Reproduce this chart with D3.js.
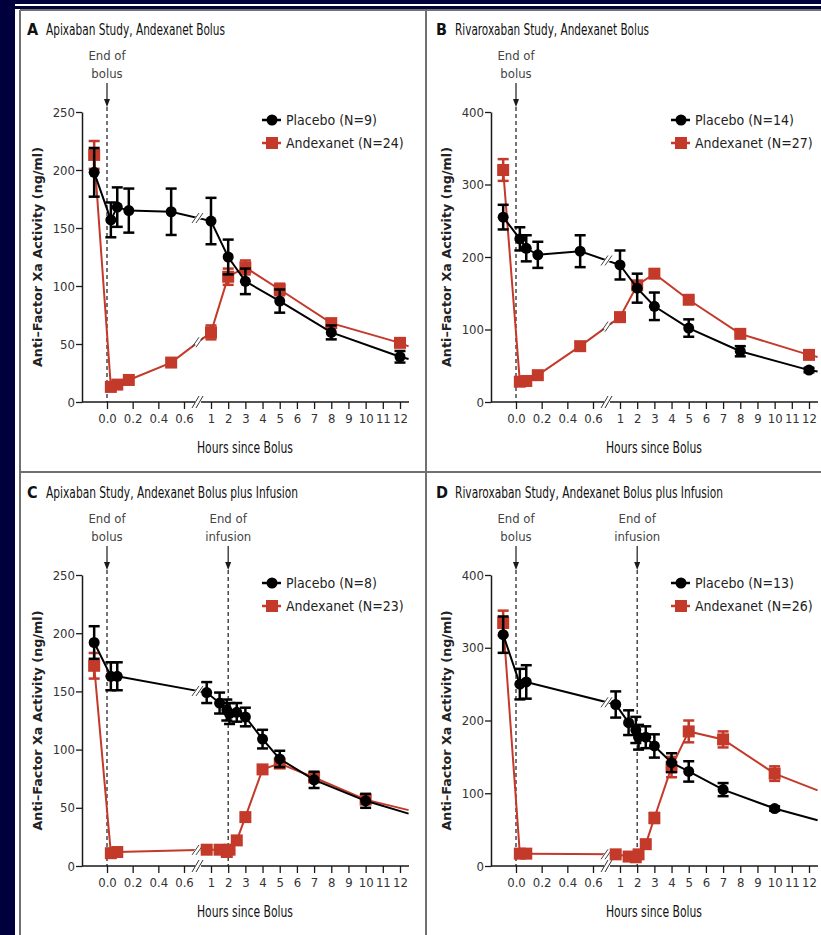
<!DOCTYPE html>
<html>
<head>
<meta charset="utf-8">
<script src="https://cdn.jsdelivr.net/npm/d3@7"></script>
<style>
  body { margin: 0; background: #00003c; }
  text { font-family: "Liberation Sans Narrow", "DejaVu Sans Condensed", "Arial Narrow", sans-serif; }
</style>
</head>
<body>
<script>
// anti-factor Xa activity, 4 panels (apixaban / rivaroxaban, bolus / bolus+infusion)

// ------- data -------
var hoursBolus = [-0.1, 0.03, 0.08, 0.17, 0.5, 1, 2, 3, 5, 8, 12];
var hoursInfusion = [-0.1, 0.03, 0.08, 0.75, 1.5, 1.92, 2.08, 2.5, 3, 4, 5, 7, 10];
var tailHour = 12.5;

// A  apixaban, bolus
var placeboA = [198, 157, 168, 165, 164, 156, 125, 104, 87, 60, 39];
var placeboA_err = [21, 15, 17, 19, 20, 20, 15, 11, 10, 6, 5];
var andexA = [213, 13, 15, 19, 34, 60, 108, 116, 97, 68, 51];
var andexA_err = [12, 2, 2, 2, 3, 6, 7, 6, 5, 3, 3];
var tailA = [37, 48];

// B  rivaroxaban, bolus
var placeboB = [255, 225, 212, 203, 208, 189, 157, 132, 102, 70, 44];
var placeboB_err = [17, 16, 18, 18, 22, 20, 20, 19, 12, 7, 3];
var andexB = [320, 28, 29, 37, 77, 117, 161, 177, 141, 94, 65];
var andexB_err = [15, 3, 3, 4, 5, 6, 5, 5, 3, 3, 2];
var tailB = [42, 62];

// C  apixaban, bolus + infusion
var placeboC = [192, 163, 163, 149, 140, 134, 131, 132, 128, 109, 92, 74, 56];
var placeboC_err = [14, 12, 12, 9, 9, 9, 9, 8, 8, 8, 7, 7, 6];
var andexC = [172, 11, 12, 14, 14, 12, 14, 22, 42, 83, 88, 76, 57];
var andexC_err = [11, 1, 1, 1, 1, 1, 1, 1, 2, 2, 3, 3, 3];
var tailC = [45, 48];

// D  rivaroxaban, bolus + infusion
var placeboD = [318, 250, 253, 222, 197, 187, 177, 177, 165, 142, 130, 105, 79];
var placeboD_err = [25, 21, 23, 18, 17, 18, 17, 15, 16, 13, 14, 9, 3];
var andexD = [334, 17, 17, 16, 13, 12, 16, 30, 66, 136, 185, 174, 127];
var andexD_err = [17, 2, 2, 2, 2, 2, 2, 2, 7, 14, 15, 11, 10];
var tailD = [63, 104];

var earlyTicks = [0, 0.2, 0.4, 0.6];
var lateTicks = [1, 2, 3, 4, 5, 6, 7, 8, 9, 10, 11, 12];
var yTicksApix = [0, 50, 100, 150, 200, 250];
var yTicksRiva = [0, 100, 200, 300, 400];

var RED = "#c43a2a";
var INK = "#1a1a1a";

// ------- page frame -------
var W = 821, H = 935;
var svg = d3.select("body").append("svg").attr("width", W).attr("height", H);

svg.append("rect").attr("width", W).attr("height", H).attr("fill", "#00003c");
svg.append("rect").attr("x", 15).attr("y", 4).attr("width", W - 15).attr("height", H - 4).attr("fill", "#fff");
svg.append("rect").attr("x", 15).attr("y", 6).attr("width", W - 15).attr("height", 3).attr("fill", "#00003c");
svg.append("rect").attr("x", 15).attr("y", 9).attr("width", W - 15).attr("height", H - 9).attr("fill", "#fff");

var frame = svg.append("g").attr("stroke", "#707070").attr("stroke-width", 2).attr("fill", "none");
frame.append("line").attr("x1", 20).attr("x2", W).attr("y1", 10).attr("y2", 10);
frame.append("line").attr("x1", 20).attr("x2", 20).attr("y1", 10).attr("y2", H);
frame.append("line").attr("x1", 426).attr("x2", 426).attr("y1", 10).attr("y2", H);
frame.append("line").attr("x1", 20).attr("x2", W).attr("y1", 472).attr("y2", 472);

// ------- one panel -------
function drawPanel(p) {
  var g = svg.append("g");
  var ox = p.ox, oy = p.oy, top = p.top;

  var xEarly = d3.scaleLinear().domain([0, 0.6]).range([ox + 25, ox + 102]);
  var xLate = d3.scaleLinear().domain([1, 12]).range([ox + 129, ox + 318]);
  function xPos(t) { return t <= 0.6 ? xEarly(t) : xLate(t); }
  var xBreak = ox + 116, xEnd = ox + 327;
  var y = d3.scaleLinear().domain([0, p.yMax]).range([oy, top]);

  // title
  g.append("text").attr("x", ox - 55).attr("y", top - 77)
    .attr("font-size", 16).attr("font-weight", "bold").attr("fill", "#111").text(p.letter);
  g.append("text").attr("x", ox - 36).attr("y", top - 77)
    .attr("font-size", 15).attr("fill", "#111")
    .attr("textLength", p.titleLen).attr("lengthAdjust", "spacingAndGlyphs")
    .text(p.title);

  // y axis
  var yAxis = g.append("g").attr("transform", "translate(" + ox + ",0)")
    .call(d3.axisLeft(y).tickValues(p.yTicks).tickSize(6).tickSizeOuter(0).tickPadding(1));
  yAxis.select(".domain").attr("stroke", INK).attr("stroke-width", 1.5);
  yAxis.selectAll(".tick line").attr("stroke", INK).attr("stroke-width", 1.3);
  yAxis.selectAll(".tick text").attr("font-size", 13).attr("fill", "#333")
    .attr("font-family", null);

  g.append("text")
    .attr("transform", "translate(" + (ox - 40) + "," + ((top + oy) / 2) + ") rotate(-90)")
    .attr("text-anchor", "middle").attr("font-size", 13).attr("font-weight", "bold")
    .attr("fill", "#222").attr("textLength", 220).attr("lengthAdjust", "spacingAndGlyphs")
    .style("font-family", "'DejaVu Sans', sans-serif")
    .text("Anti\u2013Factor Xa Activity (ng/ml)");

  // x axis, broken
  g.append("path")
    .attr("d", "M" + ox + "," + oy + "H" + (xBreak - 3) + "M" + (xBreak + 3) + "," + oy + "H" + xEnd)
    .attr("stroke", INK).attr("stroke-width", 1.5).attr("fill", "none");
  [-2, 2].forEach(function (d) {
    g.append("line")
      .attr("x1", xBreak + d - 4).attr("y1", oy + 6).attr("x2", xBreak + d + 3).attr("y2", oy - 6)
      .attr("stroke", "#333").attr("stroke-width", 1);
  });

  var axE = g.append("g").attr("transform", "translate(0," + oy + ")")
    .call(d3.axisBottom(xEarly).tickValues(earlyTicks).tickFormat(d3.format(".1f")).tickSize(7).tickPadding(5));
  var axL = g.append("g").attr("transform", "translate(0," + oy + ")")
    .call(d3.axisBottom(xLate).tickValues(lateTicks).tickFormat(d3.format("d")).tickSize(7).tickPadding(5));
  [axE, axL].forEach(function (ax) {
    ax.select(".domain").remove();
    ax.selectAll(".tick line").attr("stroke", INK).attr("stroke-width", 1.3);
    ax.selectAll(".tick text").attr("font-size", 13).attr("fill", "#333").attr("font-family", null);
  });

  g.append("text").attr("x", ox + 163).attr("y", oy + 51)
    .attr("text-anchor", "middle").attr("font-size", 15).attr("fill", "#111")
    .attr("textLength", 96).attr("lengthAdjust", "spacingAndGlyphs")
    .text("Hours since Bolus");

  // event markers
  var events = [{ x: xEarly(0), l1: "End of", l2: "bolus" }];
  if (p.infusion) events.push({ x: xLate(2), l1: "End of", l2: "infusion" });
  events.forEach(function (e) {
    g.append("text").attr("x", e.x).attr("y", top - 52).attr("text-anchor", "middle")
      .attr("font-size", 13).attr("fill", "#444").text(e.l1);
    g.append("text").attr("x", e.x).attr("y", top - 34).attr("text-anchor", "middle")
      .attr("font-size", 13).attr("fill", "#444").text(e.l2);
    g.append("line").attr("x1", e.x).attr("x2", e.x).attr("y1", top - 29).attr("y2", top - 12)
      .attr("stroke", INK).attr("stroke-width", 1.2);
    g.append("path")
      .attr("d", "M" + (e.x - 3) + "," + (top - 13) + "L" + (e.x + 3) + "," + (top - 13) + "L" + e.x + "," + (top - 5) + "Z")
      .attr("fill", INK);
    g.append("line").attr("x1", e.x).attr("x2", e.x).attr("y1", top - 5).attr("y2", oy)
      .attr("stroke", INK).attr("stroke-width", 1.2).attr("stroke-dasharray", "4,3");
  });

  // series
  function series(vals, errs, tail, color, shape) {
    var pts = p.hours.map(function (t, i) { return { t: t, v: vals[i], e: errs[i] }; });
    var linePts = pts.concat([{ t: tailHour, v: tail }]);
    var line = d3.line().x(function (d) { return xPos(d.t); }).y(function (d) { return y(d.v); });
    g.append("path").datum(linePts).attr("d", line)
      .attr("fill", "none").attr("stroke", color).attr("stroke-width", 2);

    // break mark on the line
    for (var i = 0; i < linePts.length - 1; i++) {
      var xa = xPos(linePts[i].t), xb = xPos(linePts[i + 1].t);
      if (xa < xBreak && xb > xBreak) {
        var yb = y(linePts[i].v) + (y(linePts[i + 1].v) - y(linePts[i].v)) * (xBreak - xa) / (xb - xa);
        g.append("line").attr("x1", xBreak - 3).attr("x2", xBreak + 3).attr("y1", yb + 2).attr("y2", yb - 2)
          .attr("stroke", "#fff").attr("stroke-width", 4);
        [-2, 2].forEach(function (d) {
          g.append("line")
            .attr("x1", xBreak + d - 4).attr("y1", yb + 5).attr("x2", xBreak + d + 3).attr("y2", yb - 5)
            .attr("stroke", "#444").attr("stroke-width", 1);
        });
      }
    }

    var eb = g.append("g").attr("stroke", color).attr("stroke-width", 2.5);
    pts.filter(function (d) { return d.e > 2; }).forEach(function (d) {
      var cx = xPos(d.t), y1 = y(d.v - d.e), y2 = y(d.v + d.e);
      eb.append("line").attr("x1", cx).attr("x2", cx).attr("y1", y1).attr("y2", y2);
      eb.append("line").attr("x1", cx - 5.5).attr("x2", cx + 5.5).attr("y1", y1).attr("y2", y1);
      eb.append("line").attr("x1", cx - 5.5).attr("x2", cx + 5.5).attr("y1", y2).attr("y2", y2);
    });

    if (shape === "circle") {
      g.selectAll(null).data(pts).enter().append("circle")
        .attr("cx", function (d) { return xPos(d.t); }).attr("cy", function (d) { return y(d.v); })
        .attr("r", 5.5).attr("fill", color);
    } else {
      g.selectAll(null).data(pts).enter().append("rect")
        .attr("x", function (d) { return xPos(d.t) - 6; }).attr("y", function (d) { return y(d.v) - 6; })
        .attr("width", 12).attr("height", 12).attr("fill", color);
    }
  }

  series(p.andex, p.andexErr, p.tail[1], RED, "square");
  series(p.placebo, p.placeboErr, p.tail[0], "#000", "circle");

  // legend
  var lg = g.append("g").attr("transform", "translate(" + (ox + 180) + "," + (top + 8) + ")");
  lg.append("line").attr("x1", 0).attr("x2", 19).attr("y1", 0).attr("y2", 0).attr("stroke", "#000").attr("stroke-width", 2.5);
  lg.append("circle").attr("cx", 10).attr("cy", 0).attr("r", 5.5).attr("fill", "#000");
  lg.append("text").attr("x", 24).attr("y", 5).attr("font-size", 14).attr("fill", "#222").text(p.legend[0]);
  lg.append("line").attr("x1", 0).attr("x2", 19).attr("y1", 23).attr("y2", 23).attr("stroke", RED).attr("stroke-width", 2.5);
  lg.append("rect").attr("x", 4).attr("y", 17).attr("width", 12).attr("height", 12).attr("fill", RED);
  lg.append("text").attr("x", 24).attr("y", 28).attr("font-size", 14).attr("fill", "#222").text(p.legend[1]);
}

drawPanel({ ox: 82, oy: 402, top: 112, letter: "A", title: "Apixaban Study, Andexanet Bolus", titleLen: 179,
  yMax: 250, yTicks: yTicksApix, hours: hoursBolus, infusion: false,
  placebo: placeboA, placeboErr: placeboA_err, andex: andexA, andexErr: andexA_err, tail: tailA,
  legend: ["Placebo (N=9)", "Andexanet (N=24)"] });

drawPanel({ ox: 491, oy: 402, top: 112, letter: "B", title: "Rivaroxaban Study, Andexanet Bolus", titleLen: 194,
  yMax: 400, yTicks: yTicksRiva, hours: hoursBolus, infusion: false,
  placebo: placeboB, placeboErr: placeboB_err, andex: andexB, andexErr: andexB_err, tail: tailB,
  legend: ["Placebo (N=14)", "Andexanet (N=27)"] });

drawPanel({ ox: 82, oy: 866, top: 575, letter: "C", title: "Apixaban Study, Andexanet Bolus plus Infusion", titleLen: 252,
  yMax: 250, yTicks: yTicksApix, hours: hoursInfusion, infusion: true,
  placebo: placeboC, placeboErr: placeboC_err, andex: andexC, andexErr: andexC_err, tail: tailC,
  legend: ["Placebo (N=8)", "Andexanet (N=23)"] });

drawPanel({ ox: 491, oy: 866, top: 575, letter: "D", title: "Rivaroxaban Study, Andexanet Bolus plus Infusion", titleLen: 268,
  yMax: 400, yTicks: yTicksRiva, hours: hoursInfusion, infusion: true,
  placebo: placeboD, placeboErr: placeboD_err, andex: andexD, andexErr: andexD_err, tail: tailD,
  legend: ["Placebo (N=13)", "Andexanet (N=26)"] });
</script>
</body>
</html>
